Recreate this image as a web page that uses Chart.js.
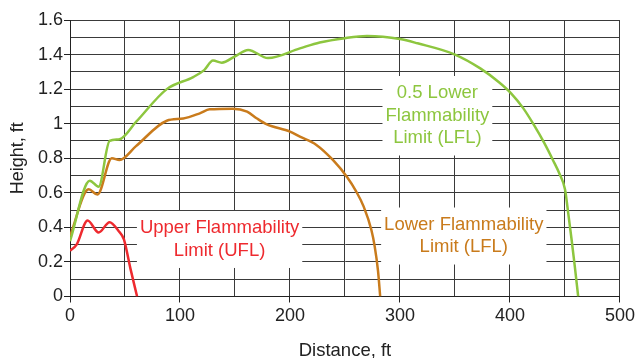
<!DOCTYPE html>
<html>
<head>
<meta charset="utf-8">
<script src="https://cdn.jsdelivr.net/npm/chart.js@4"></script>
<style>
  html, body { margin: 0; padding: 0; background: #fff; }
  #wrap { width: 638px; height: 358px; }
</style>
</head>
<body>
<div id="wrap"><canvas id="flameChart" width="638" height="358"></canvas></div>
<script>
// distance (ft) / height (ft) pairs
const lflHalfX = [0, 18, 26, 36, 45, 60, 88, 112, 122, 130, 138, 150, 162, 180, 209, 227, 250, 270, 300, 316, 350, 373, 390, 401, 412, 422, 431, 439, 445, 450, 453, 456, 459, 462];
const lflHalfY = [0.32, 0.67, 0.635, 0.90, 0.91, 1.01, 1.20, 1.27, 1.31, 1.365, 1.353, 1.39, 1.427, 1.38, 1.436, 1.47, 1.495, 1.507, 1.49, 1.465, 1.40, 1.32, 1.24, 1.176, 1.09, 0.99, 0.89, 0.79, 0.71, 0.62, 0.48, 0.33, 0.17, 0];

const lflX = [0, 17, 25, 38, 45, 60, 88, 103, 118, 127, 148, 161, 170, 179, 200, 209, 224, 239, 252, 260, 267, 274, 277, 280, 282];
const lflY = [0.35, 0.62, 0.59, 0.80, 0.79, 0.87, 1.017, 1.03, 1.06, 1.083, 1.087, 1.07, 1.03, 0.996, 0.954, 0.925, 0.877, 0.79, 0.69, 0.61, 0.52, 0.385, 0.29, 0.15, 0];

const uflX = [0, 6, 16, 26, 36, 44, 49, 55, 61];
const uflY = [0.265, 0.30, 0.44, 0.37, 0.43, 0.38, 0.33, 0.16, 0];

const xTicks = [0, 100, 200, 300, 400, 500];
const yTicks = [0, 0.2, 0.4, 0.6, 0.8, 1, 1.2, 1.4, 1.6];

const GREEN = '#8DC63F';
const ORANGE = '#C97B1C';
const RED = '#EE2A2F';
const FONT = "'Liberation Sans', Arial, Helvetica, sans-serif";

function pts(xs, ys) {
    return xs.map((x, i) => ({x: x, y: ys[i]}));
}

// curve labels on white boxes (centre given in data units)
const curveLabels = [
    {lines: ['Upper Flammability', 'Limit (UFL)'], x: 136, y: 0.33, color: RED},
    {lines: ['Lower Flammability', 'Limit (LFL)'], x: 358, y: 0.35, color: ORANGE},
    {lines: ['0.5 Lower', 'Flammability', 'Limit (LFL)'], x: 334, y: 1.046, color: GREEN},
];

const labelPlugin = {
    id: 'curveLabels',
    beforeDatasetsDraw(chart) {
        const ctx = chart.ctx;
        const xs = chart.scales.x, ys = chart.scales.y;
        const lh = 22.5;
        ctx.save();
        ctx.font = '18.5px ' + FONT;
        ctx.textAlign = 'center';
        ctx.textBaseline = 'middle';
        curveLabels.forEach(l => {
            const cx = xs.getPixelForValue(l.x);
            const cy = ys.getPixelForValue(l.y);
            const w = Math.max(...l.lines.map(t => ctx.measureText(t).width)) + 6;
            const h = l.lines.length * lh + 12;
            ctx.fillStyle = '#fff';
            ctx.fillRect(cx - w / 2, cy - h / 2, w, h);
            ctx.fillStyle = l.color;
            l.lines.forEach((t, i) => {
                ctx.fillText(t, cx, cy + (i - (l.lines.length - 1) / 2) * lh);
            });
        });
        ctx.restore();
    }
};

const isMajorX = v => xTicks.includes(Math.round(v));
const isMajorY = v => yTicks.some(t => Math.abs(t - v) < 1e-6);

new Chart(document.getElementById('flameChart').getContext('2d'), {
    type: 'line',
    data: {
        datasets: [
            {label: '0.5 LFL', data: pts(lflHalfX, lflHalfY), borderColor: GREEN},
            {label: 'LFL', data: pts(lflX, lflY), borderColor: ORANGE},
            {label: 'UFL', data: pts(uflX, uflY), borderColor: RED},
        ]
    },
    options: {
        responsive: false,
        animation: false,
        devicePixelRatio: 1,
        layout: {padding: {top: 20, right: 17, left: 0, bottom: 0}},
        elements: {
            line: {borderWidth: 2.5, cubicInterpolationMode: 'monotone', fill: false},
            point: {radius: 0, hoverRadius: 0}
        },
        plugins: {legend: {display: false}, tooltip: {enabled: false}},
        scales: {
            x: {
                type: 'linear',
                min: 0,
                max: 500,
                afterFit: s => { s.height = 61.5; },
                ticks: {
                    stepSize: 50,
                    maxRotation: 0,
                    autoSkip: false,
                    padding: 3,
                    color: '#222',
                    font: {family: FONT, size: 18},
                    callback: v => isMajorX(v) ? String(v) : ''
                },
                grid: {
                    color: '#3a3a3a',
                    lineWidth: 1,
                    tickLength: 6,
                    tickColor: c => isMajorX(c.tick.value) ? '#222' : 'rgba(0,0,0,0)'
                },
                border: {color: '#222', width: 1},
                title: {
                    display: true,
                    text: 'Distance, ft',
                    color: '#222',
                    font: {family: FONT, size: 18.5, lineHeight: 0.8},
                    padding: 0
                }
            },
            y: {
                min: 0,
                max: 1.6,
                afterFit: s => { s.width = 70; },
                ticks: {
                    stepSize: 0.1,
                    autoSkip: false,
                    padding: 1,
                    color: '#222',
                    font: {family: FONT, size: 18},
                    callback: v => isMajorY(v) ? String(Math.round(v * 10) / 10) : ''
                },
                grid: {
                    color: '#3a3a3a',
                    lineWidth: 1,
                    tickLength: 6,
                    tickColor: c => isMajorY(c.tick.value) ? '#222' : 'rgba(0,0,0,0)'
                },
                border: {color: '#222', width: 1},
                title: {
                    display: true,
                    text: 'Height, ft',
                    color: '#222',
                    font: {family: FONT, size: 18, lineHeight: 1.2},
                    padding: {top: 7, bottom: 0}
                }
            }
        }
    },
    plugins: [labelPlugin]
});
</script>
</body>
</html>
